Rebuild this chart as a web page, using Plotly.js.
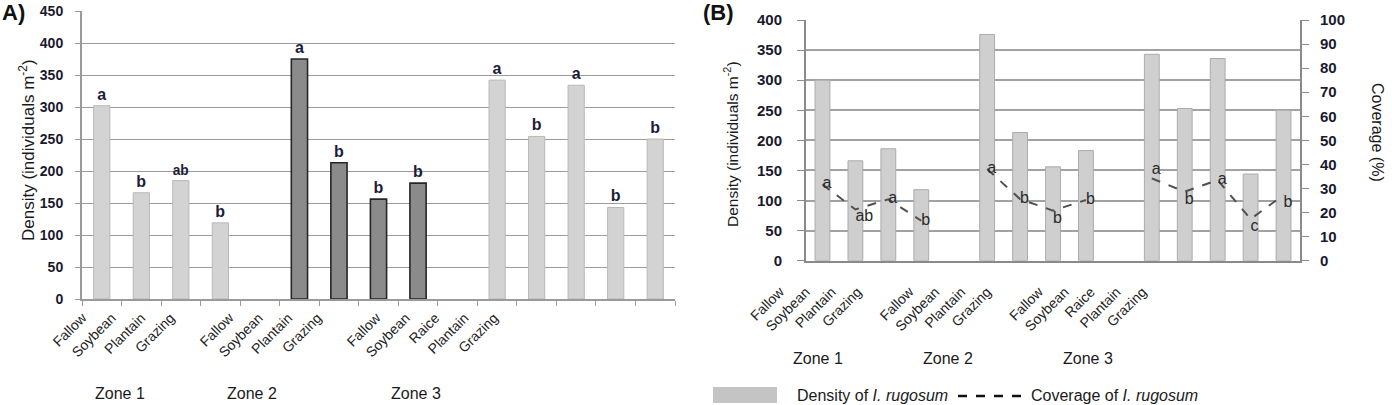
<!DOCTYPE html>
<html>
<head>
<meta charset="utf-8">
<script src="https://cdn.plot.ly/plotly-3.0.1.min.js"></script>
<style>html,body{margin:0;padding:0;background:#fff}#chart{width:1392px;height:405px}</style>
</head>
<body>
<div id="chart"></div>
<script>
// ---------------- DATA ----------------
const zoneNames = ['Zone 1', 'Zone 2', 'Zone 3'];
const zone1Crops = ['Fallow', 'Soybean', 'Plantain', 'Grazing'];
const zone2Crops = ['Fallow', 'Soybean', 'Plantain', 'Grazing'];
const zone3Crops = ['Fallow', 'Soybean', 'Raice', 'Plantain', 'Grazing'];

// Panel A: density (individuals m-2)
const densityA1 = [302, 166, 185, 119];
const densityA2 = [375, 213, 156, 181];
const densityA3 = [342, 254, 334, 143, 250];
const lettersA1 = ['a', 'b', 'ab', 'b'];
const lettersA2 = ['a', 'b', 'b', 'b'];
const lettersA3 = ['a', 'b', 'a', 'b', 'b'];

// Panel B: density (bars) and coverage % (dashed line)
const densityB1 = [300, 166, 186, 118];
const densityB2 = [376, 213, 156, 183];
const densityB3 = [343, 253, 336, 144, 250];
const coverageB1 = [31.7, 21.3, 25.5, 16.6];
const coverageB2 = [38.1, 25.6, 20.8, 25.2];
const coverageB3 = [34.2, 28.7, 33.5, 17.3, 27.3];
const lettersB1 = ['a', 'ab', 'a', 'b'];
const lettersB2 = ['a', 'b', 'b', 'b'];
const lettersB3 = ['a', 'b', 'a', 'c', 'b'];

// ---------------- LAYOUT HELPERS ----------------
const zones = [zone1Crops, zone2Crops, zone3Crops];
const zoneStart = [];
let s = 0;
zones.forEach(z => { zoneStart.push(s); s += z.length + 1; });
const nSlots = s - 1;
const slotX = (zi) => zones[zi].map((_, i) => zoneStart[zi] + i);
const allTickVals = [].concat(...zones.map((z, zi) => slotX(zi)));
const allTickText = [].concat(...zones);

const W = 1392, H = 405;
const px = v => v / W;
const py = v => 1 - v / H;
const FAM = 'Liberation Sans, Arial, sans-serif';

const tickFont = {family: FAM, size: 14, color: '#1a1a2e', weight: 'bold'};
const tickFontB = {family: FAM, size: 15, color: '#1a1a2e', weight: 'bold'};
const labelFont = {family: FAM, size: 14, color: '#222'};

const traces = [];

// Panel A bars
const densA = [densityA1, densityA2, densityA3];
const letA = [lettersA1, lettersA2, lettersA3];
densA.forEach((d, zi) => {
  const dark = zi === 1;
  traces.push({
    type: 'bar', x: slotX(zi), y: d, xaxis: 'x', yaxis: 'y',
    width: 0.41,
    marker: {color: dark ? '#8b8b8b' : '#d3d3d3', line: {color: dark ? '#262626' : '#b9b9b9', width: dark ? 1.6 : 1}},
    text: letA[zi], textposition: 'outside', cliponaxis: false,
    textfont: {family: FAM, size: 16, color: '#1c1c3a', weight: 'bold'},
    showlegend: false, hoverinfo: 'skip'
  });
});

// Panel B bars + coverage lines
const densB = [densityB1, densityB2, densityB3];
const covB = [coverageB1, coverageB2, coverageB3];
const letB = [lettersB1, lettersB2, lettersB3];
const letPosB = [
  ['middle right', 'bottom right', 'middle right', 'middle right'],
  ['middle right', 'middle right', 'bottom right', 'middle right'],
  ['top right', 'bottom right', 'middle right', 'bottom right', 'bottom right']
];
densB.forEach((d, zi) => {
  traces.push({
    type: 'bar', x: slotX(zi), y: d, xaxis: 'x2', yaxis: 'y2',
    width: 0.45,
    marker: {color: '#cfcfcf', line: {color: '#ababab', width: 1}},
    showlegend: false, hoverinfo: 'skip'
  });
});
covB.forEach((c, zi) => {
  traces.push({
    type: 'scatter', mode: 'lines+text', x: slotX(zi), y: c, xaxis: 'x2', yaxis: 'y3',
    line: {color: '#505050', width: 2, dash: 'dash'},
    text: letB[zi], textposition: letPosB[zi], cliponaxis: false,
    textfont: {family: FAM, size: 16, color: '#2a2a2a'},
    showlegend: false, hoverinfo: 'skip'
  });
});

// hidden traces to carry category label axes
traces.push({type: 'scatter', x: [0], y: [0], mode: 'markers', marker: {opacity: 0}, xaxis: 'x3', yaxis: 'y4', showlegend: false, hoverinfo: 'skip'});
traces.push({type: 'scatter', x: [0], y: [0], mode: 'markers', marker: {opacity: 0}, xaxis: 'x4', yaxis: 'y5', showlegend: false, hoverinfo: 'skip'});

const range = [-0.5, nSlots - 0.5];

const layout = {
  width: W, height: H,
  margin: {l: 0, r: 0, t: 0, b: 0},
  paper_bgcolor: '#fff', plot_bgcolor: 'rgba(0,0,0,0)',
  barmode: 'overlay', showlegend: false,
  font: {family: FAM},
  xaxis: {
    domain: [px(82), px(675)], anchor: 'y', range: range, type: 'linear',
    tickmode: 'linear', tick0: -0.5, dtick: 1, ticks: 'outside', ticklen: 5, tickcolor: '#9a9a9a', tickwidth: 1,
    showticklabels: false, showgrid: false, zeroline: false,
    showline: true, linecolor: '#9a9a9a', linewidth: 2, automargin: false, fixedrange: true
  },
  yaxis: {
    domain: [py(299), py(11)], anchor: 'x', range: [0, 450], dtick: 50,
    showgrid: true, gridcolor: '#9c9c9c', gridwidth: 1, zeroline: false,
    showline: true, linecolor: '#9a9a9a', linewidth: 2,
    ticks: 'outside', ticklen: 5, tickcolor: '#9a9a9a', ticklabelstandoff: 9,
    tickfont: tickFont, automargin: false, fixedrange: true
  },
  xaxis2: {
    domain: [px(806), px(1300)], anchor: 'y2', range: range, type: 'linear',
    showticklabels: false, ticks: '', showgrid: false, zeroline: false,
    showline: true, linecolor: '#8a8a8a', linewidth: 2, automargin: false, fixedrange: true
  },
  yaxis2: {
    domain: [py(260.7), py(20)], anchor: 'x2', range: [0, 400], dtick: 50,
    showgrid: true, gridcolor: '#a2a2a2', gridwidth: 2, zeroline: false,
    showline: true, linecolor: '#8a8a8a', linewidth: 2,
    ticks: 'outside', ticklen: 7, tickcolor: '#8a8a8a', ticklabelstandoff: 12,
    tickfont: tickFontB, automargin: false, fixedrange: true
  },
  yaxis3: {
    overlaying: 'y2', side: 'right', anchor: 'x2', range: [0, 100], dtick: 10,
    showgrid: false, zeroline: false,
    showline: true, linecolor: '#8a8a8a', linewidth: 2,
    ticks: 'outside', ticklen: 7, tickcolor: '#8a8a8a', ticklabelstandoff: 8,
    tickfont: tickFontB, automargin: false, fixedrange: true
  },
  xaxis3: {
    domain: [px(67.7), px(508.7)], anchor: 'y4', range: range, type: 'linear',
    tickmode: 'array', tickvals: allTickVals, ticktext: allTickText, tickangle: -45,
    tickfont: labelFont, ticks: '', showgrid: false, zeroline: false, showline: false,
    automargin: false, fixedrange: true
  },
  yaxis4: {domain: [py(306), py(304)], anchor: 'x3', range: [-1, 1], visible: false, fixedrange: true},
  xaxis4: {
    domain: [px(767), px(1155.5)], anchor: 'y5', range: range, type: 'linear',
    tickmode: 'array', tickvals: allTickVals, ticktext: allTickText, tickangle: -45,
    tickfont: labelFont, ticks: '', showgrid: false, zeroline: false, showline: false,
    automargin: false, fixedrange: true
  },
  yaxis5: {domain: [py(280), py(278)], anchor: 'x4', range: [-1, 1], visible: false, fixedrange: true},
  annotations: [],
  shapes: []
};

const ann = layout.annotations;
const txt = (text, x, y, opts) => ann.push(Object.assign({
  text: text, x: x, y: y, xref: 'paper', yref: 'paper', showarrow: false,
  xanchor: 'center', yanchor: 'middle',
  font: {family: FAM, size: 16, color: '#1a1a1a'}
}, opts || {}));

// panel letters
txt('A)', px(13), py(12), {font: {family: FAM, size: 22, color: '#111', weight: 'bold'}});
txt('(B)', px(719), py(12), {font: {family: FAM, size: 22, color: '#111', weight: 'bold'}});

// axis titles
txt('Density (individuals m<sup>-2</sup>)', px(27), py(150), {textangle: -90, font: {family: FAM, size: 17, color: '#1a1a1a'}});
txt('Density (individuals m<sup>-2</sup>)', px(731), py(144), {textangle: -90, font: {family: FAM, size: 15.5, color: '#1a1a1a'}});
txt('Coverage (%)', px(1378), py(132), {textangle: 90, font: {family: FAM, size: 16, color: '#1a1a1a'}});

// zone labels
const zoneCxA = [120, 252, 416];
const zoneCxB = [818, 948, 1088];
zoneNames.forEach((z, i) => {
  txt(z, px(zoneCxA[i]), py(393), {font: {family: FAM, size: 16, color: '#1a1a1a'}});
  txt(z, px(zoneCxB[i]), py(358), {font: {family: FAM, size: 16, color: '#1a1a1a'}});
});

// legend (panel B)
layout.shapes.push({type: 'rect', xref: 'paper', yref: 'paper', x0: px(713), x1: px(777), y0: py(403), y1: py(387), fillcolor: '#c4c4c4', line: {width: 0}});
txt('Density of <i>I. rugosum</i>', px(795), py(395), {xanchor: 'left', font: {family: FAM, size: 16, color: '#1a1a1a'}});
layout.shapes.push({type: 'line', xref: 'paper', yref: 'paper', x0: px(958), x1: px(1026), y0: py(396), y1: py(396), line: {color: '#111', width: 2.5, dash: 'dash'}});
txt('Coverage of <i>I. rugosum</i>', px(1029), py(395), {xanchor: 'left', font: {family: FAM, size: 16, color: '#1a1a1a'}});

Plotly.newPlot('chart', traces, layout, {staticPlot: true, displayModeBar: false});
</script>
</body>
</html>
